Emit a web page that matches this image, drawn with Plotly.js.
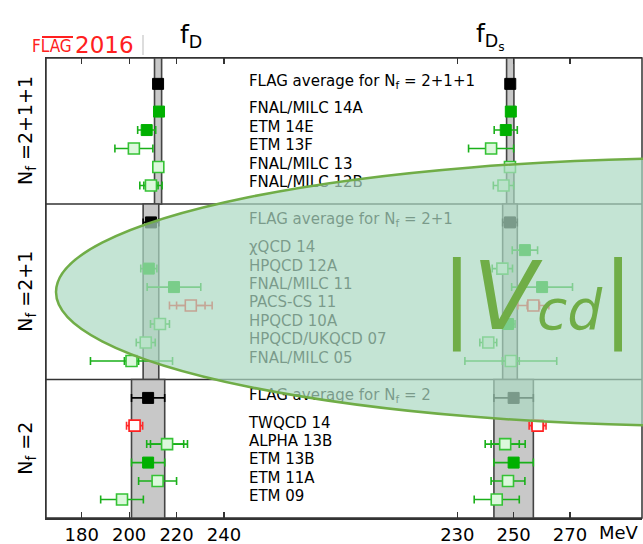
<!DOCTYPE html>
<html><head><meta charset="utf-8">
<script src="https://cdn.plot.ly/plotly-3.0.1.min.js"></script>
<style>html,body{margin:0;padding:0;background:#fff}#chart{width:643px;height:544px}</style>
</head><body><div id="chart"></div>
<script>
// ---------- data (top to bottom) ----------
const labels = [
  'FLAG average for N<sub>f</sub> = 2+1+1','FNAL/MILC 14A','ETM 14E','ETM 13F','FNAL/MILC 13','FNAL/MILC 12B',
  'FLAG average for N<sub>f</sub> = 2+1','χQCD 14','HPQCD 12A','FNAL/MILC 11','PACS-CS 11','HPQCD 10A','HPQCD/UKQCD 07','FNAL/MILC 05',
  'FLAG average for N<sub>f</sub> = 2','TWQCD 14','ALPHA 13B','ETM 13B','ETM 11A','ETM 09'];
const section = ['2+1+1','2+1+1','2+1+1','2+1+1','2+1+1','2+1+1',
  '2+1','2+1','2+1','2+1','2+1','2+1','2+1','2+1',
  '2','2','2','2','2','2'];
const sectionTitles = {'2+1+1':'N<sub>f</sub> =2+1+1','2+1':'N<sub>f</sub> =2+1','2':'N<sub>f</sub> =2'};

const fD      = [212.2,212.6,207.4,202.0,212.3,209.2, 209.2,null,208.3,218.9,226.0,213.0,207.0,201.0, 208.0,202.3,216.0,208.0,212.0,197.0];
const fD_err  = [1.5,1.2,3.8,8.0,1.0,4.7, 3.3,null,3.4,11.3,9.0,4.0,4.0,17.3, 7.0,3.4,8.6,7.0,8.0,9.0];
const fD_stat = [null,null,null,null,null,3.0, null,null,null,null,6.0,null,null,3.0, null,2.2,7.0,null,null,null];
const fD_kind = ['avg','filled','filled','open','open','open','avg',null,'filled','filled','red','open','open','open','avg','red','open','filled','open','open'];

const fDs      = [248.8,249.0,247.2,242.0,248.7,246.4, 248.7,254.0,246.0,260.1,257.0,248.0,241.0,249.0, 250.0,258.5,247.0,250.0,248.0,244.0];
const fDs_err  = [1.3,1.3,4.1,8.0,1.0,3.6, 2.6,4.5,3.6,10.8,5.5,2.5,3.0,16.3, 7.0,3.0,7.1,7.0,6.0,8.0];
const fDs_stat = [null,null,null,null,null,0.5, null,null,null,null,2.2,null,null,3.0, null,2.1,5.0,null,null,null];
const fDs_kind = ['avg','filled','filled','open','open','open','avg','filled','open','filled','red','filled','open','open','avg','red','open','filled','open','open'];

const fD_ticks  = [180,200,220,240];
const fDs_ticks = [230,250,270];

// ---------- layout geometry ----------
const FONT = 'DejaVu Sans';
const W = 643, H = 544, ML = 46, MR = 1, MT = 58, MB = 26;
const PL = ML, PR = W - MR, PT = MT, PB = H - MB;
const px2x = p => (p - PL) / (PR - PL);
const px2y = p => (PB - p) / (PB - PT);
const SPLIT = px2x(340);

// row positions from section structure (bottom-up)
const n = labels.length;
const yPos = new Array(n);
const bounds = {};
let yCur = 0;
['2','2+1','2+1+1'].forEach(s => {
  const idx = [];
  for (let i = 0; i < n; i++) if (section[i] === s) idx.push(i);
  const start = yCur;
  const entries = idx.filter(i => fD_kind[i] !== 'avg').reverse();
  entries.forEach(i => { yCur += 1; yPos[i] = yCur; });
  const a = idx.find(i => fD_kind[i] === 'avg');
  yCur += 1.5; yPos[a] = yCur;
  yCur += 1;
  bounds[s] = [start, yCur];
});
const yTop = 24.9;
bounds['2+1+1'][1] = yTop;

const STY = {
  avg:    {mc:'#000000', lc:'#000000', lw:1,   ec:'#000000'},
  filled: {mc:'#00b000', lc:'#00b000', lw:1,   ec:'#1ab01a'},
  open:   {mc:'#dcf8dc', lc:'#35c235', lw:1.6, ec:'#1ab01a'},
  red:    {mc:'#ffffff', lc:'#ff2020', lw:1.6, ec:'#ff2a2a'}
};

const traces = [];
function addColumn(vals, err, stat, kind, xa) {
  ['avg','filled','open','red'].forEach(k => {
    const idx = [];
    for (let i = 0; i < n; i++) if (kind[i] === k && vals[i] != null) idx.push(i);
    if (!idx.length) return;
    const st = STY[k];
    const sIdx = idx.filter(i => stat[i] != null);
    if (sIdx.length) {
      traces.push({type:'scatter', mode:'markers', xaxis:xa, yaxis:'y', hoverinfo:'skip',
        x: sIdx.map(i => vals[i]), y: sIdx.map(i => yPos[i]),
        marker:{size:2, opacity:0},
        error_x:{type:'data', symmetric:true, array: sIdx.map(i => stat[i]), color: st.ec, thickness:1.6, width:4}});
    }
    traces.push({type:'scatter', mode:'markers', xaxis:xa, yaxis:'y', hoverinfo:'skip',
      x: idx.map(i => vals[i]), y: idx.map(i => yPos[i]),
      marker:{symbol:'square', size:11, color: st.mc, line:{color: st.lc, width: st.lw}},
      error_x:{type:'data', symmetric:true, array: idx.map(i => err[i]), color: st.ec, thickness:1.6, width:4}});
  });
}
addColumn(fD, fD_err, fD_stat, fD_kind, 'x');
addColumn(fDs, fDs_err, fDs_stat, fDs_kind, 'x2');

// label text
const LABEL_X = 250.5; // in fD axis units
traces.push({type:'scatter', mode:'text', xaxis:'x', yaxis:'y', hoverinfo:'skip', cliponaxis:false,
  x: labels.map(() => LABEL_X), y: yPos.map(v => v + 0.1), text: labels, textposition:'middle right',
  textfont:{family:FONT, size:15, color:'#000'}});

// shapes
const shapes = [];
['2+1+1','2+1','2'].forEach(s => {
  const a = labels.findIndex((l, i) => section[i] === s && fD_kind[i] === 'avg');
  [[fD, fD_err, 'x'], [fDs, fDs_err, 'x2']].forEach(([v, e, xr]) => {
    shapes.push({type:'rect', xref:xr, yref:'y', layer:'below',
      x0: v[a] - e[a], x1: v[a] + e[a], y0: bounds[s][0], y1: bounds[s][1],
      fillcolor:'#c8c8c8', line:{color:'#444', width:1.6}});
  });
});
[bounds['2'][1], bounds['2+1'][1]].forEach(y => {
  shapes.push({type:'line', xref:'paper', yref:'y', layer:'below', x0:0, x1:1, y0:y, y1:y,
    line:{color:'#333', width:1.5}});
});
shapes.push({type:'rect', xref:'paper', yref:'paper', layer:'below', x0:0, x1:1, y0:0, y1:1,
  line:{color:'#333', width:1.5}, fillcolor:'rgba(0,0,0,0)'});
shapes.push({type:'line', xref:'paper', yref:'paper', x0:px2x(42), x1:px2x(73), y0:px2y(37), y1:px2y(37),
  line:{color:'#ff2020', width:2}});
shapes.push({type:'line', xref:'paper', yref:'paper', x0:px2x(143), x1:px2x(143), y0:px2y(35), y1:px2y(55),
  line:{color:'#bbbbbb', width:1}});
shapes.push({type:'circle', xref:'paper', yref:'paper', layer:'above',
  x0:px2x(56), x1:px2x(1370), y0:px2y(426), y1:px2y(158),
  fillcolor:'rgba(172,217,194,0.71)', line:{color:'#70ad47', width:2.5}});

const annotations = [];
Object.keys(bounds).forEach(s => {
  annotations.push({xref:'paper', yref:'y', x:px2x(27), y:(bounds[s][0] + bounds[s][1]) / 2,
    text: sectionTitles[s], textangle:-90, showarrow:false, xanchor:'center', yanchor:'middle',
    font:{family:FONT, size:19, color:'#000'}});
});
annotations.push({xref:'paper', yref:'paper', x:px2x(191), y:px2y(36), text:'f<sub>D</sub>', showarrow:false,
  xanchor:'center', yanchor:'middle', font:{family:FONT, size:25, color:'#000'}});
annotations.push({xref:'paper', yref:'paper', x:px2x(491), y:px2y(36), text:'f<sub>D<sub>s</sub></sub>', showarrow:false,
  xanchor:'center', yanchor:'middle', font:{family:FONT, size:25, color:'#000'}});
annotations.push({xref:'paper', yref:'paper', x:px2x(74), y:px2y(46), text:'FLAG', showarrow:false,
  xanchor:'right', yanchor:'middle', font:{family:'DejaVu Sans Condensed, DejaVu Sans', size:17, color:'#ff2020'}});
annotations.push({xref:'paper', yref:'paper', x:px2x(73), y:px2y(45), text:'2016', showarrow:false,
  xanchor:'left', yanchor:'middle', font:{family:FONT, size:23, color:'#ff2020'}});
annotations.push({xref:'paper', yref:'paper', x:px2x(597), y:px2y(532), text:'MeV', showarrow:false,
  xanchor:'left', yanchor:'middle', font:{family:FONT, size:18, color:'#000'}});
const VC = '#70ad47';
annotations.push({xref:'paper', yref:'paper', x:px2x(440), y:px2y(297), borderpad:0,
  text:'|<i>V</i><span style="font-size:55px"><i>cd</i></span>|', showarrow:false,
  xanchor:'left', yanchor:'middle', font:{family:FONT, size:94, color:VC}});

const axBase = {ticks:'inside', ticklen:6, tickwidth:1.2, tickcolor:'#333', mirror:'ticks', showline:true,
  linecolor:'#333', linewidth:1.5, showgrid:false, zeroline:false, fixedrange:true,
  tickfont:{family:FONT, size:18, color:'#000'}};

const layout = {
  width:W, height:H, margin:{l:ML, r:MR, t:MT, b:MB},
  paper_bgcolor:'#fff', plot_bgcolor:'#fff', showlegend:false,
  xaxis: Object.assign({}, axBase, {domain:[0, SPLIT], range:[164.95, 288.9], tickvals:fD_ticks, anchor:'y'}),
  xaxis2: Object.assign({}, axBase, {domain:[SPLIT, 1], range:[188.36, 295.57], tickvals:fDs_ticks, anchor:'y'}),
  yaxis: {domain:[0,1], range:[0, yTop], showticklabels:false, ticks:'', showgrid:false, zeroline:false,
    showline:true, linecolor:'#333', linewidth:1.5, anchor:'x', fixedrange:true},
  shapes, annotations
};

Plotly.newPlot('chart', traces, layout, {displayModeBar:false, staticPlot:true});
</script></body></html>
